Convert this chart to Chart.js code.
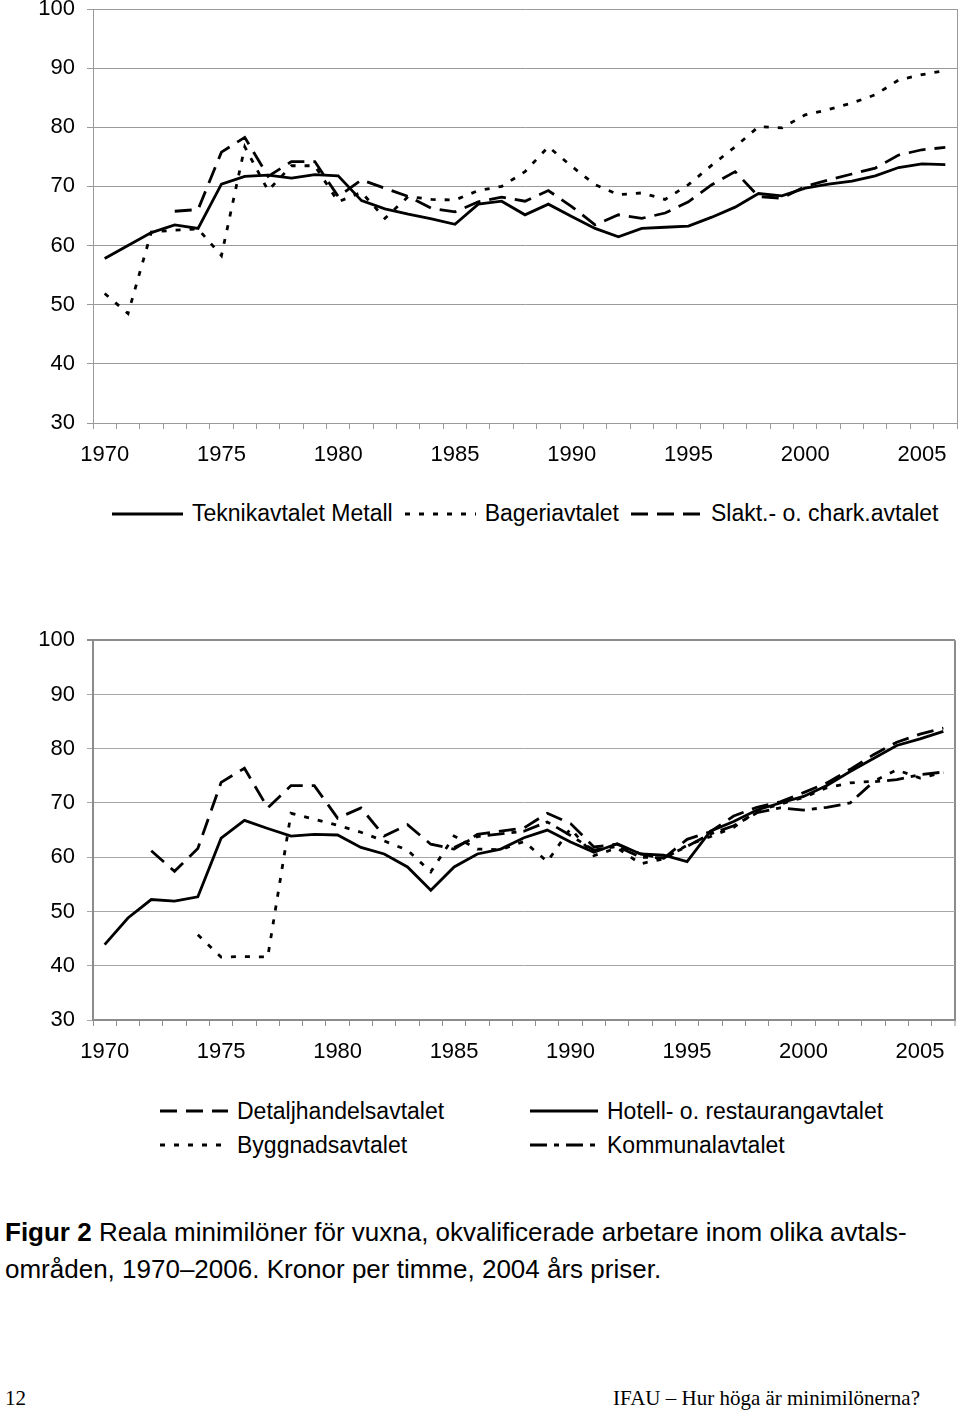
<!DOCTYPE html>
<html lang="sv">
<head>
<meta charset="utf-8">
<title>Figur 2 Reala minimilöner</title>
<script src="https://cdn.jsdelivr.net/npm/chart.js@4"></script>
<style>
  html, body { margin: 0; padding: 0; background: #fff; }
  body {
    width: 960px; height: 1415px; position: relative; overflow: hidden;
    font-family: 'Liberation Sans', Arial, Helvetica, sans-serif; color: #000;
  }
  .chartBox { position: absolute; left: 0; width: 960px; }
  #box1 { top: -20px; height: 500px; }
  #box2 { top: 615px; height: 470px; }
  .legItem { display: flex; align-items: center; white-space: nowrap; font-size: 23px; }
  .legItem svg { margin-right: 9px; flex: none; }
  #legend1 { position: absolute; left: 112px; top: 500px; display: flex; gap: 12px; }
  #legend2 {
    position: absolute; left: 160px; top: 1094px;
    display: grid; grid-template-columns: 370px auto; grid-auto-rows: 34px; align-items: center;
  }
  #caption { position: absolute; left: 5px; top: 1214px; font-size: 26px; line-height: 37px; white-space: nowrap; }
  #footer { position: absolute; left: 5px; right: 40px; top: 1386px; font-family: 'Liberation Serif', 'Times New Roman', serif; font-size: 21px; }
  #footer .right { position: absolute; right: 0; top: 0; }
</style>
</head>
<body>
<div class="chartBox" id="box1"><canvas id="chart1"></canvas></div>
<div id="legend1"></div>
<div class="chartBox" id="box2"><canvas id="chart2"></canvas></div>
<div id="legend2"></div>
<div id="caption"><b>Figur 2</b> Reala minimilöner för vuxna, okvalificerade arbetare inom olika avtals-<br>områden, 1970–2006. Kronor per timme, 2004 års priser.</div>
<div id="footer"><span>12</span><span class="right">IFAU – Hur höga är minimilönerna?</span></div>

<script>
// Årtal (x-axel)
const years = [1970, 1971, 1972, 1973, 1974, 1975, 1976, 1977, 1978, 1979,
               1980, 1981, 1982, 1983, 1984, 1985, 1986, 1987, 1988, 1989,
               1990, 1991, 1992, 1993, 1994, 1995, 1996, 1997, 1998, 1999,
               2000, 2001, 2002, 2003, 2004, 2005, 2006];

// Övre diagrammet
const teknikMetall = [57.8, 60.0, 62.2, 63.5, 62.9, 70.4, 71.7, 71.9, 71.4, 72.0,
                      71.8, 67.6, 66.2, 65.3, 64.5, 63.6, 67.0, 67.5, 65.2, 67.0,
                      64.9, 62.9, 61.5, 62.9, 63.1, 63.3, 64.8, 66.5, 68.8, 68.4,
                      69.7, 70.4, 70.9, 71.8, 73.2, 73.8, 73.7];
const bageri = [51.9, 48.5, 62.3, 62.6, 62.8, 58.3, 76.7, 69.3, 73.5, 73.5,
                67.4, 69.0, 64.6, 68.3, 67.8, 67.7, 69.3, 70.0, 72.5, 76.7,
                73.4, 70.3, 68.6, 68.9, 67.8, 70.3, 73.6, 76.7, 80.1, 79.9,
                82.1, 83.0, 84.1, 85.5, 88.0, 88.9, 89.6];
const slaktChark = [null, null, null, 65.8, 66.1, 75.8, 78.3, 71.7, 74.2, 74.2,
                    68.3, 71.1, 69.7, 68.3, 66.3, 65.7, 67.4, 68.2, 67.5, 69.3,
                    66.6, 63.5, 65.2, 64.6, 65.5, 67.4, 70.3, 72.5, 68.3, 68.0,
                    70.0, 71.1, 72.1, 73.1, 75.3, 76.2, 76.6];

// Nedre diagrammet
const detaljhandel = [null, null, 61.2, 57.4, 61.6, 73.8, 76.4, 69.1, 73.2, 73.2,
                      67.2, 69.1, 63.9, 66.0, 62.4, 61.5, 64.2, 64.8, 65.4, 68.1,
                      66.2, 61.9, 62.4, 60.6, 59.8, 63.3, 64.7, 67.6, 69.2, 70.2,
                      71.9, 73.7, 76.2, 78.9, 81.2, 82.7, 83.8];
const hotellRestaurang = [43.9, 48.8, 52.2, 51.9, 52.7, 63.5, 66.8, 65.3, 63.9, 64.2,
                          64.1, 61.8, 60.6, 58.2, 53.9, 58.2, 60.6, 61.5, 63.6, 65.0,
                          62.8, 60.9, 62.5, 60.6, 60.4, 59.2, 64.8, 66.6, 68.7, 70.0,
                          71.2, 73.2, 75.8, 78.2, 80.6, 81.8, 83.2];
const byggnads = [null, null, null, null, 45.7, 41.6, 41.7, 41.6, 68.1, 67.0,
                  65.9, 64.6, 63.0, 61.3, 57.3, 63.9, 61.5, 61.4, 62.9, 59.2,
                  65.3, 60.3, 61.7, 58.8, 59.7, 62.2, 63.8, 65.5, 68.5, 69.8,
                  71.0, 72.8, 73.7, 74.0, 76.1, 74.6, 75.6];
const kommunal = [null, null, null, null, null, null, null, null, null, null,
                  null, null, null, null, null, 61.8, 63.8, 64.3, 64.8, 66.5,
                  64.0, 61.3, 62.0, 60.0, 59.9, 62.0, 64.3, 65.8, 68.2, 69.1,
                  68.7, 69.2, 70.0, 73.9, 74.3, 75.2, 75.7];

// Linjetyper
const SOLID = [];
const LONG_DASH = [17, 9];
const DOTTED = [5, 9];
const DASH_DOT = [17, 7, 5, 7];

Chart.defaults.font.family = "'Liberation Sans', Arial, Helvetica, sans-serif";
Chart.defaults.font.size = 22;
Chart.defaults.color = '#000';

function lineSet(label, data, dash) {
    return {
        label: label,
        data: data,
        borderColor: '#000',
        backgroundColor: '#000',
        borderWidth: 2.8,
        borderDash: dash,
        pointRadius: 0,
        pointHoverRadius: 0,
        tension: 0,
        fill: false
    };
}

// Skalor: kategori-axel med streck mellan åren, y 30-100
function scaleOptions(frame) {
    return {
        x: {
            offset: true,
            grid: {
                offset: true,
                drawOnChartArea: true,
                // bara högra ramlinjen syns inne i diagrammet
                color: ctx => ctx.type === 'tick' ? 'rgba(0,0,0,0)' : frame.color,
                lineWidth: ctx => ctx.type === 'tick' ? 1 : frame.width,
                tickColor: frame.tickColor,
                tickWidth: 1,
                tickLength: 6
            },
            border: { display: true, color: frame.color, width: frame.width },
            ticks: {
                autoSkip: false,
                maxRotation: 0,
                padding: 13,
                callback: (value, index) => years[index] % 5 === 0 ? String(years[index]) : ''
            },
            afterFit: scale => { scale.height = frame.xHeight; }
        },
        y: {
            min: 30,
            max: 100,
            ticks: { stepSize: 10, padding: 12 },
            grid: {
                color: ctx => ctx.tick && ctx.tick.value === 100 ? frame.color : frame.gridColor,
                lineWidth: ctx => ctx.tick && ctx.tick.value === 100 ? frame.width : 1,
                tickLength: 6
            },
            border: { display: true, color: frame.color, width: frame.width },
            afterFit: scale => { scale.width = 93; }
        }
    };
}

function makeChart(id, datasets, frame, padding) {
    const ctx = document.getElementById(id).getContext('2d');
    return new Chart(ctx, {
        type: 'line',
        data: { labels: years, datasets: datasets },
        options: {
            responsive: true,
            maintainAspectRatio: false,
            animation: false,
            layout: { padding: padding },
            scales: scaleOptions(frame),
            plugins: {
                legend: { display: false },
                tooltip: { enabled: false }
            }
        }
    });
}

// HTML-legend byggd från diagrammets dataset
function buildLegend(chart, el, sampleWidth) {
    chart.data.datasets.forEach(ds => {
        const item = document.createElement('div');
        item.className = 'legItem';
        const dash = ds.borderDash.length ? ds.borderDash.join(' ') : 'none';
        item.innerHTML =
            '<svg width="' + sampleWidth + '" height="8"><line x1="0" y1="4" x2="' + sampleWidth +
            '" y2="4" stroke="#000" stroke-width="2.8" stroke-dasharray="' + dash + '"/></svg>' +
            '<span>' + ds.label + '</span>';
        el.appendChild(item);
    });
}

document.addEventListener('DOMContentLoaded', () => {
    const chart1 = makeChart('chart1', [
        lineSet('Teknikavtalet Metall', teknikMetall, SOLID),
        lineSet('Bageriavtalet', bageri, DOTTED),
        lineSet('Slakt.- o. chark.avtalet', slaktChark, LONG_DASH)
    ], { color: '#9a9a9a', gridColor: '#9a9a9a', tickColor: '#9a9a9a', width: 1, xHeight: 57 },
       { top: 29, right: 3, bottom: 0, left: 0 });

    const chart2 = makeChart('chart2', [
        lineSet('Detaljhandelsavtalet', detaljhandel, LONG_DASH),
        lineSet('Hotell- o. restaurangavtalet', hotellRestaurang, SOLID),
        lineSet('Byggnadsavtalet', byggnads, DOTTED),
        lineSet('Kommunalavtalet', kommunal, DASH_DOT)
    ], { color: '#8c8c8c', gridColor: '#a6a6a6', tickColor: '#8c8c8c', width: 2, xHeight: 65 },
       { top: 20, right: 5, bottom: 0, left: 0 });

    buildLegend(chart1, document.getElementById('legend1'), 71);
    buildLegend(chart2, document.getElementById('legend2'), 68);
});
</script>
</body>
</html>
